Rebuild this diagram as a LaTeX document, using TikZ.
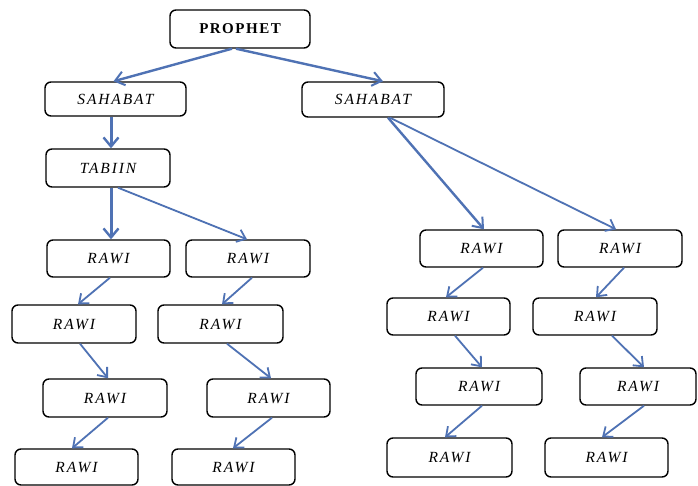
\documentclass[tikz,border=0pt]{standalone}
\usepackage{fontspec}
\setmainfont{Liberation Serif}
\usetikzlibrary{arrows.meta}
\definecolor{linkblue}{RGB}{79,114,180}
\begin{document}
\begin{tikzpicture}[x=1pt,y=-1pt,
  box/.style={draw=black,line width=1.4pt,rounded corners=6pt,inner sep=0pt,
    font=\fontsize{15.5}{17}\selectfont\itshape\addfontfeatures{LetterSpace=12}},
  topbox/.style={box,font=\fontsize{15}{17}\selectfont\bfseries\addfontfeatures{LetterSpace=10}},
  link/.style={draw=linkblue,line width=1.8pt,-{Straight Barb[length=8pt,width=13pt,line width=1.8pt]}},
  heavy/.style={link,line width=3pt,-{Straight Barb[length=9pt,width=15pt,line width=2.4pt]}},
  mid/.style={link,line width=2.4pt,-{Straight Barb[length=9pt,width=14pt,line width=2pt]}}]
\useasboundingbox[fill=white] (0,0) rectangle (698,486);

% nodes: centre, width, height
\node[topbox,minimum width=140pt,minimum height=38pt] (P) at (240,29) {PROPHET};
\node[box,minimum width=141pt,minimum height=34pt] (SL) at (115.5,99) {SAHABAT};
\node[box,minimum width=142pt,minimum height=35pt] (SR) at (373,99.5) {SAHABAT};
\node[box,minimum width=124pt,minimum height=38pt] (T) at (108,168) {TABIIN};

\node[box,minimum width=123pt,minimum height=37pt] (L1a) at (108.5,258.5) {RAWI};
\node[box,minimum width=124pt,minimum height=37pt] (L1b) at (248,258.5) {RAWI};
\node[box,minimum width=124pt,minimum height=38pt] (L2a) at (74,324) {RAWI};
\node[box,minimum width=125pt,minimum height=38pt] (L2b) at (220.5,324) {RAWI};
\node[box,minimum width=124pt,minimum height=38pt] (L3a) at (105,398) {RAWI};
\node[box,minimum width=123pt,minimum height=38pt] (L3b) at (268.5,398) {RAWI};
\node[box,minimum width=123pt,minimum height=36pt] (L4a) at (76.5,467) {RAWI};
\node[box,minimum width=123pt,minimum height=36pt] (L4b) at (233.5,467) {RAWI};

\node[box,minimum width=123pt,minimum height=37pt] (R1a) at (481.5,248.5) {RAWI};
\node[box,minimum width=124pt,minimum height=37pt] (R1b) at (620,248.5) {RAWI};
\node[box,minimum width=123pt,minimum height=37pt] (R2a) at (448.5,316.5) {RAWI};
\node[box,minimum width=124pt,minimum height=37pt] (R2b) at (595,316.5) {RAWI};
\node[box,minimum width=126pt,minimum height=37pt] (R3a) at (479,386.5) {RAWI};
\node[box,minimum width=116pt,minimum height=37pt] (R3b) at (638,386.5) {RAWI};
\node[box,minimum width=125pt,minimum height=39pt] (R4a) at (449.5,457.5) {RAWI};
\node[box,minimum width=123pt,minimum height=39pt] (R4b) at (606.5,457.5) {RAWI};

% chain of transmission
\draw[mid] ([xshift=-8pt]P.south) -- ([xshift=-2pt]SL.north);
\draw[mid] ([xshift=-4pt]P.south) -- ([xshift=10pt]SR.north);
\draw[heavy] ([xshift=-4.5pt]SL.south) -- ([xshift=3pt]T.north);
\draw[heavy] ([xshift=3pt]T.south) -- ([xshift=2.5pt]L1a.north);
\draw[link] ([xshift=10pt]T.south) -- ([xshift=-1pt]L1b.north);
\draw[mid] ([xshift=15pt]SR.south) -- ([xshift=2.5pt]R1a.north);
\draw[link] ([xshift=17pt]SR.south) -- ([xshift=-4pt]R1b.north);

\draw[link] ([xshift=1.5pt]L1a.south) -- ([xshift=4pt]L2a.north);
\draw[link] ([xshift=4pt]L1b.south) -- ([xshift=1.5pt]L2b.north);
\draw[link] ([xshift=6pt]L2a.south) -- ([xshift=3pt]L3a.north);
\draw[link] ([xshift=6.5pt]L2b.south) -- ([xshift=2.5pt]L3b.north);
\draw[link] ([xshift=3pt]L3a.south) -- ([xshift=-4.5pt]L4a.north);
\draw[link] ([xshift=3.5pt]L3b.south) -- ([xshift=-0.5pt]L4b.north);

\draw[link] ([xshift=1.5pt]R1a.south) -- ([xshift=-2.5pt]R2a.north);
\draw[link] ([xshift=4pt]R1b.south) -- ([xshift=1pt]R2b.north);
\draw[link] ([xshift=6.5pt]R2a.south) -- ([xshift=3pt]R3a.north);
\draw[link] ([xshift=17pt]R2b.south) -- ([xshift=6pt]R3b.north);
\draw[link] ([xshift=3pt]R3a.south) -- ([xshift=-4.5pt]R4a.north);
\draw[link] ([xshift=6pt]R3b.south) -- ([xshift=-4.5pt]R4b.north);
\end{tikzpicture}
\end{document}
